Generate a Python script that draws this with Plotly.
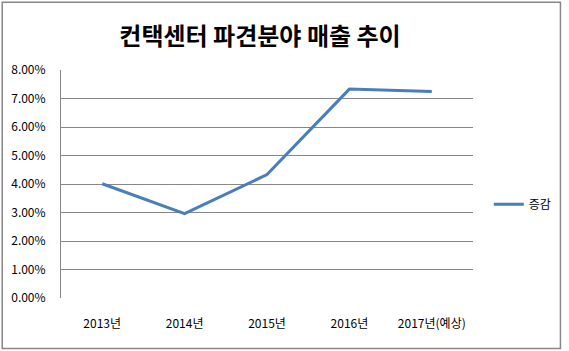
import plotly.graph_objects as go

categories = ["2013년", "2014년", "2015년", "2016년", "2017년(예상)"]
values = [0.0401, 0.0296, 0.0433, 0.0733, 0.0725]
series_name = "증감"
title_text = "컨택센터 파견분야 매출 추이"

W, H = 569, 351
L, R, T, B = 61, 91, 69.5, 53
pw = W - L - R
ph = H - T - B

fig = go.Figure()
fig.add_trace(go.Scatter(
    x=categories, y=values, mode="lines", name=series_name,
    line=dict(color="#4A7EBB", width=3),
))

font_family = "Noto Sans CJK KR, Noto Sans, sans-serif"

fig.update_layout(
    width=W, height=H,
    margin=dict(l=L, r=R, t=T, b=B, pad=0),
    paper_bgcolor="white", plot_bgcolor="white",
    font=dict(family=font_family, size=12, color="#000000"),
    title=dict(text="<b>" + title_text + "</b>", x=260 / W, xanchor="center",
               y=1 - 37 / H, yanchor="middle",
               font=dict(size=24, family=font_family, color="#000000")),
    showlegend=True,
    legend=dict(x=(494 - L) / pw, y=(298 - 204) / ph, xanchor="left", yanchor="middle",
                font=dict(size=12, color="#000000"), bgcolor="rgba(0,0,0,0)",
                itemwidth=30, tracegroupgap=0),
    xaxis=dict(type="category", range=[-0.5, 4.5], showgrid=False, zeroline=False,
               showline=False, ticks="", ticklabelstandoff=17,
               tickfont=dict(size=12, color="#000000")),
    yaxis=dict(range=[0, 0.08], dtick=0.01, tickformat=".2%", showgrid=True,
               gridcolor="#878787", gridwidth=1, zeroline=False,
               showline=True, linecolor="#878787", linewidth=1, ticks="",
               ticklabelstandoff=12, tickfont=dict(size=12, color="#000000")),
)

fig.add_shape(type="rect", xref="paper", yref="paper",
              x0=(1.5 - L) / pw, x1=(566.5 - L) / pw,
              y0=(298 - 348.5) / ph, y1=(298 - 1.5) / ph,
              line=dict(color="#878787", width=1.5), fillcolor="rgba(0,0,0,0)", layer="below")

fig.write_html("out.html")
